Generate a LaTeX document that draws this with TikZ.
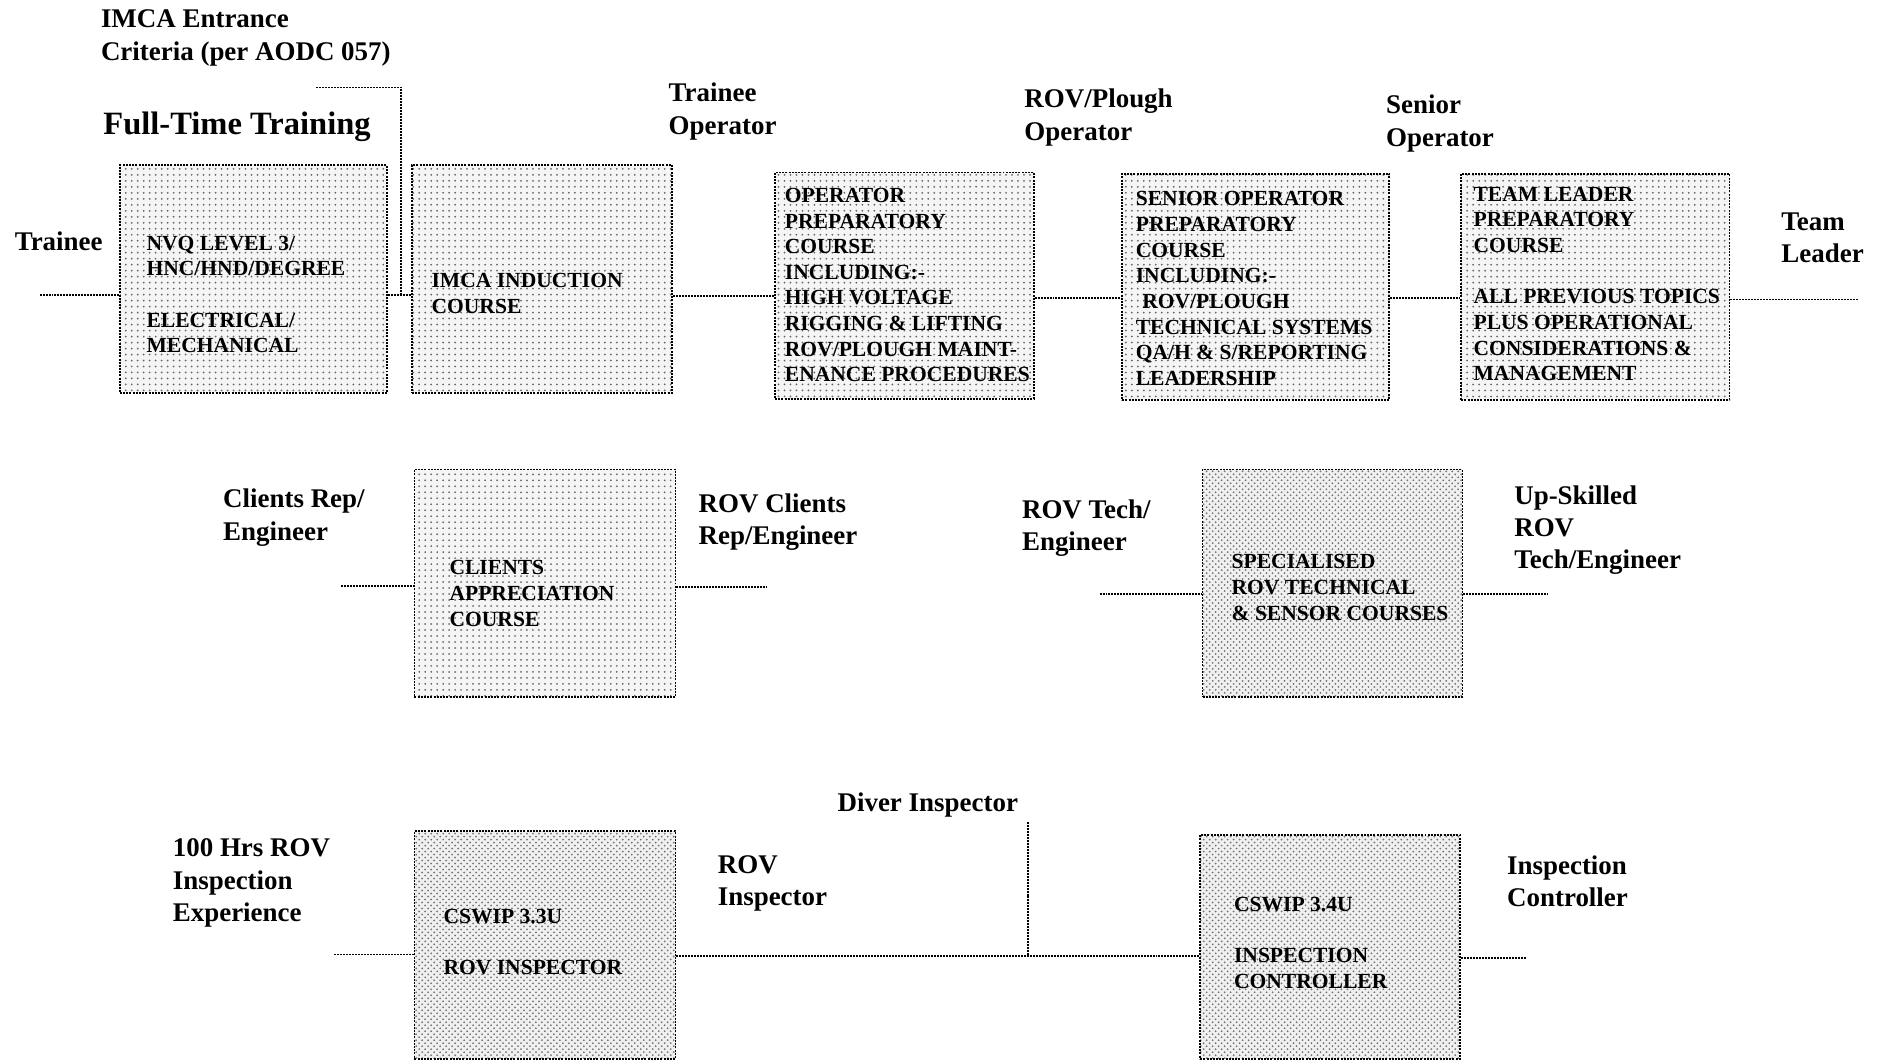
\documentclass[tikz,border=0pt]{standalone}
\usepackage{fontspec}
\setmainfont{Liberation Serif}
\usetikzlibrary{fit,patterns}
\tikzset{
  course/.style={draw=black, line width=0.9pt, dash pattern=on 1pt off 0.6pt,
    inner sep=0pt, preaction={fill=black!4}, pattern=dots, pattern color=black!60},
  darkcourse/.style={course, preaction={fill=black!6}, pattern=crosshatch dots, pattern color=black!55},
  lbl/.style={anchor=north west, inner sep=0pt, align=left,
    font=\fontsize{13.5}{16.2}\selectfont\bfseries},
  boxtxt/.style={anchor=north west, inner sep=0pt, align=left,
    font=\fontsize{10.8}{12.85}\selectfont\bfseries},
  link/.style={line width=0.9pt, dash pattern=on 1pt off 0.5pt},
}
\begin{document}
\begin{tikzpicture}[x=0.6pt,y=-0.6pt]
\useasboundingbox (0,0) rectangle (1568,886);

% ---- boxes ----
\node[course, fit={(100,138) (323,328)}] (b1) {};
\node[course, fit={(344,138) (561,328)}] (b2) {};
\node[course, fit={(647,144) (863,333)}] (b3) {};
\node[course, fit={(937,145) (1160,334)}] (b4) {};
\node[course, fit={(1220,145) (1444,334)}] (b5) {};
\node[course, fit={(346,392) (564,582)}] (b6) {};
\node[darkcourse, fit={(1004,392) (1221,582)}] (b7) {};
\node[darkcourse, fit={(346,694) (564,884)}] (b8) {};
\node[darkcourse, fit={(1002,697) (1219,884)}] (b9) {};

% ---- box texts ----
\node[boxtxt] (t1) at (122,196.7) {NVQ LEVEL 3/\\HNC/HND/DEGREE\\[12.85pt]ELECTRICAL/\\MECHANICAL};
\node[boxtxt] (t2) at (360,227.7) {IMCA INDUCTION\\COURSE};
\node[boxtxt] (t3) at (655,156.7) {OPERATOR\\PREPARATORY\\COURSE\\INCLUDING:-\\HIGH VOLTAGE\\RIGGING \& LIFTING\\ROV/PLOUGH MAINT-\\ENANCE PROCEDURES};
\node[boxtxt] (t4) at (948,159.7) {SENIOR OPERATOR\\PREPARATORY\\COURSE\\INCLUDING:-\\\hspace*{0.3em}ROV/PLOUGH\\TECHNICAL SYSTEMS\\QA/H \& S/REPORTING\\LEADERSHIP};
\node[boxtxt] (t5) at (1230,155.7) {TEAM LEADER\\PREPARATORY\\COURSE\\[12.85pt]ALL PREVIOUS TOPICS\\PLUS OPERATIONAL\\CONSIDERATIONS \&\\MANAGEMENT};
\node[boxtxt] (t6) at (375,467.7) {CLIENTS\\APPRECIATION\\COURSE};
\node[boxtxt] (t7) at (1028,462.7) {SPECIALISED\\ROV TECHNICAL\\\& SENSOR COURSES};
\node[boxtxt] (t8) at (370,758.7) {CSWIP 3.3U\\[12.85pt]ROV INSPECTOR};
\node[boxtxt] (t9) at (1030,748.7) {CSWIP 3.4U\\[12.85pt]INSPECTION\\CONTROLLER};

% ---- labels ----
\node[lbl] (imca) at (84,8) {IMCA Entrance\\Criteria (per AODC 057)};
\node[lbl, font=\fontsize{16.3}{19}\selectfont\bfseries] (ftt) at (86,93.5) {Full-Time Training};
\node[lbl] (trainee) at (12,193) {Trainee};
\node[lbl] (top) at (558,69) {Trainee\\Operator};
\node[lbl] (rovp) at (855,74) {ROV/Plough\\Operator};
\node[lbl] (senior) at (1157,79) {Senior\\Operator};
\node[lbl] (team) at (1487,177) {Team\\Leader};
\node[lbl] (crep) at (186,408) {Clients Rep/\\Engineer};
\node[lbl] (rcrep) at (583,412) {ROV Clients\\Rep/Engineer};
\node[lbl] (rtech) at (853,417) {ROV Tech/\\Engineer};
\node[lbl] (upsk) at (1264,405) {Up-Skilled\\ROV\\Tech/Engineer};
\node[lbl] (hrs) at (144,700) {100 Hrs ROV\\Inspection\\Experience};
\node[lbl] (rinsp) at (599,714) {ROV\\Inspector};
\node[lbl] (diver) at (699,662) {Diver Inspector};
\node[lbl] (ictrl) at (1258,714) {Inspection\\Controller};

% ---- connector end points ----
\coordinate (s0) at (33,246);
\coordinate (br0) at (264,73);
\coordinate (br1) at (335,73);
\coordinate (brj) at (335,246);
\coordinate (e5) at (1552,250);
\coordinate (s6) at (285,489);
\coordinate (e6) at (640,490);
\coordinate (s7) at (918,496);
\coordinate (e7) at (1292,496);
\coordinate (s8) at (279,797);
\coordinate (dj) at (858,798);
\coordinate (dtop) at (858,686);
\coordinate (e9) at (1274,800);

% ---- connectors ----
\draw[link] (s0) -- (b1.west |- s0);
\draw[link] (b1.east |- brj) -- (b2.west |- brj);
\draw[link] (br0) -- (br1) -- (brj);
\draw[link] (b2.east |- 0,247) -- (b3.west |- 0,247);
\draw[link] (b3.east |- 0,249) -- (b4.west |- 0,249);
\draw[link] (b4.east |- 0,249) -- (b5.west |- 0,249);
\draw[link] (b5.east |- e5) -- (e5);
\draw[link] (s6) -- (b6.west |- s6);
\draw[link] (b6.east |- e6) -- (e6);
\draw[link] (s7) -- (b7.west |- s7);
\draw[link] (b7.east |- e7) -- (e7);
\draw[link] (s8) -- (b8.west |- s8);
\draw[link] (b8.east |- dj) -- (b9.west |- dj);
\draw[link] (dtop) -- (dj);
\draw[link] (b9.east |- e9) -- (e9);
\end{tikzpicture}
\end{document}
